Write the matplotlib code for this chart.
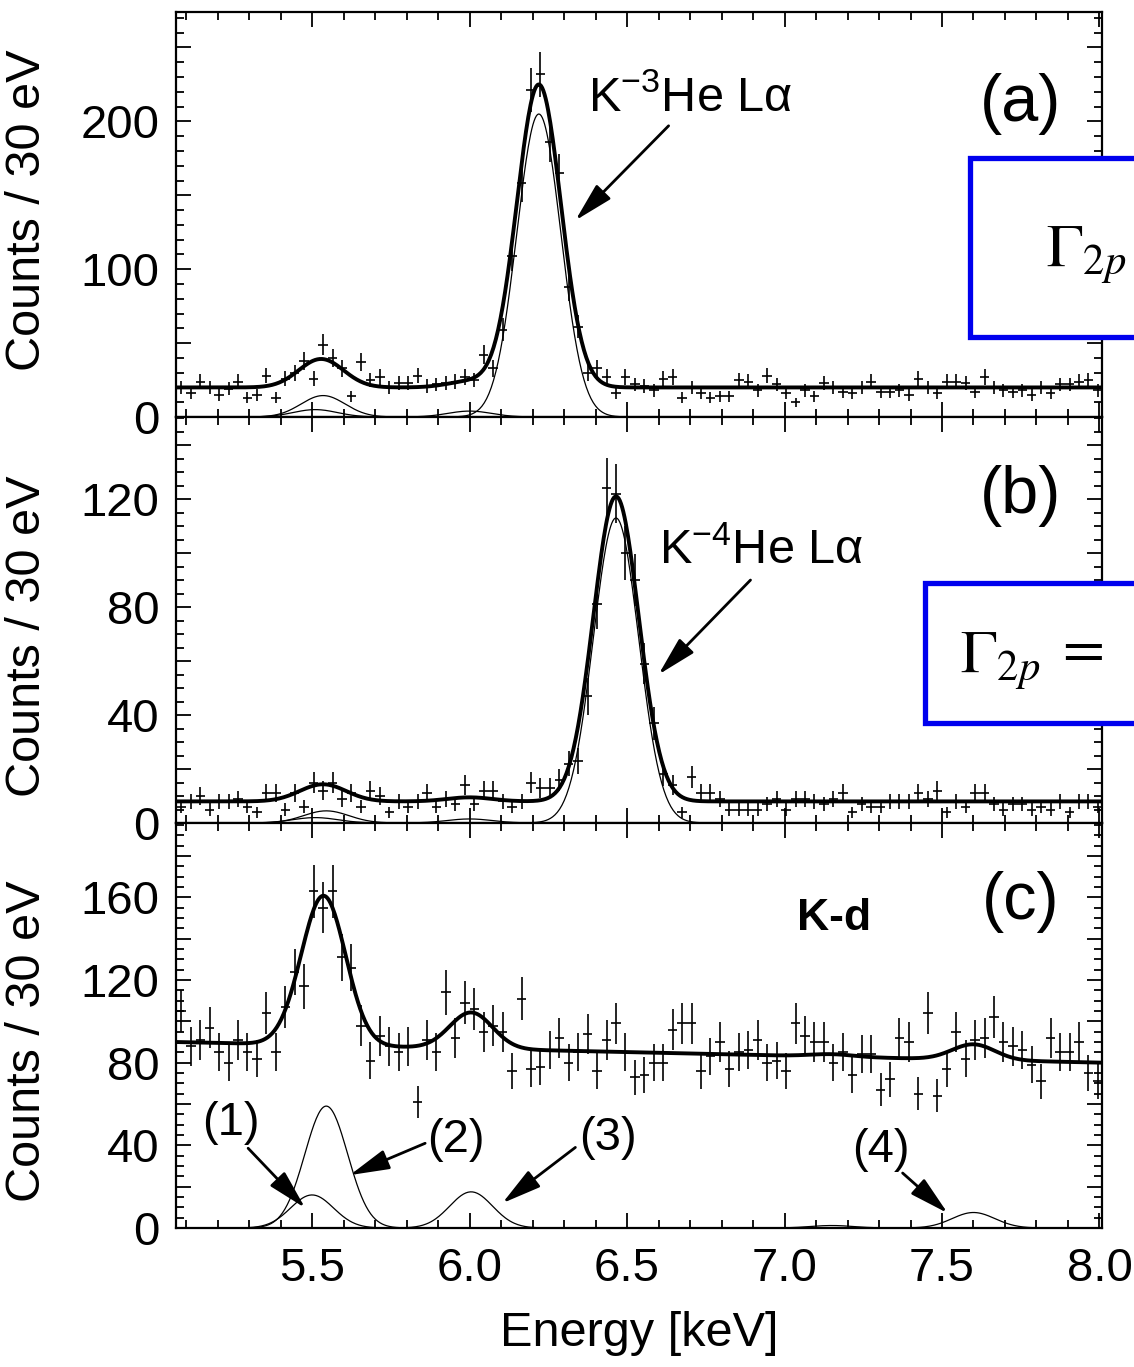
import numpy as np
import matplotlib
matplotlib.use("Agg")
import matplotlib.pyplot as plt
from matplotlib.patches import Rectangle
from matplotlib.ticker import MultipleLocator, FuncFormatter

plt.rcParams["font.family"] = ["Liberation Sans", "DejaVu Sans"]
plt.rcParams["mathtext.fontset"] = "custom"
plt.rcParams["mathtext.rm"] = "Liberation Sans"
plt.rcParams["mathtext.it"] = "Liberation Sans:italic"
plt.rcParams["mathtext.bf"] = "Liberation Sans:bold"

W, H = 1134, 1367

# 30 eV bins, centres in keV
energy = np.round(5.085 + 0.03 * np.arange(98), 3)

# ── (a) K-3He ────────────────────────────────────────────────────────────
counts_a = [20, 16, 24, 20, 15, 19, 24, 13, 15, 28,
            13, 26, 30, 38, 26, 49, 40, 33, 14, 37,
            25, 27, 20, 23, 23, 28, 21, 22, 23, 24,
            27, 25, 42, 33, 59, 109, 158, 221, 232, 186,
            165, 88, 61, 30, 33, 27, 16, 27, 22, 21,
            18, 26, 27, 13, 20, 16, 13, 14, 14, 25,
            24, 18, 28, 22, 16, 10, 18, 14, 23, 20,
            17, 16, 20, 24, 17, 17, 18, 15, 26, 20,
            16, 24, 24, 23, 17, 27, 20, 18, 17, 18,
            15, 20, 16, 22, 22, 24, 25, 18]
a_bg = [20.0, 0.0]                      # offset, slope per keV
a_centres = [5.51, 5.535, 6.00, 6.22]
a_amps = [5.0, 14.5, 4.0, 205.0]
a_sigma = 0.07

# ── (b) K-4He ────────────────────────────────────────────────────────────
counts_b = [6, 8, 10, 5, 8, 8, 9, 6, 4, 11,
            11, 5, 11, 6, 15, 12, 15, 9, 11, 6,
            12, 10, 4, 8, 6, 8, 11, 6, 9, 7,
            14, 7, 12, 12, 8, 6, 8, 15, 13, 13,
            16, 22, 23, 47, 81, 124, 122, 100, 90, 59,
            37, 18, 14, 4, 17, 11, 11, 9, 5, 5,
            5, 5, 7, 9, 5, 9, 9, 8, 7, 9,
            11, 4, 7, 6, 6, 8, 8, 8, 11, 9,
            12, 4, 8, 6, 11, 11, 7, 5, 7, 7,
            5, 6, 5, 8, 4, 8, 8, 6]
b_bg = [8.0, 0.0]
b_centres = [5.51, 5.545, 6.00, 6.465]
b_amps = [2.0, 4.5, 1.5, 113.0]
b_sigma = 0.072

# ── (c) K-d ──────────────────────────────────────────────────────────────
counts_c = [105, 88, 91, 97, 85, 80, 91, 85, 82, 104,
            85, 107, 124, 117, 163, 155, 163, 131, 126, 98,
            81, 93, 88, 85, 88, 61, 91, 85, 114, 92,
            109, 106, 95, 98, 95, 76, 111, 77, 78, 86,
            92, 80, 85, 94, 76, 91, 99, 85, 73, 74,
            80, 80, 96, 99, 99, 76, 83, 90, 77, 85,
            86, 91, 80, 81, 76, 99, 93, 90, 90, 80,
            85, 74, 84, 84, 67, 72, 92, 90, 65, 104,
            64, 77, 95, 82, 91, 92, 102, 90, 88, 86,
            79, 71, 92, 85, 85, 90, 75, 71]
c_bg = [90.0, -3.4]
c_centres = [5.50, 5.545, 6.005, 7.15, 7.60]
c_amps = [16.0, 59.0, 17.5, 1.2, 7.5]
c_sigma = 0.068

XMIN, XMAX = 5.068, 8.008


def gauss(e, c, a, s):
    return a * np.exp(-0.5 * ((e - c) / s) ** 2)


def draw_panel(ax, counts, bg, centres, amps, sigma, ytop, major, label_step, minor, label_y):
    counts = np.asarray(counts, dtype=float)
    ax.errorbar(energy, counts, xerr=0.015, yerr=np.sqrt(counts), fmt="none",
                ecolor="k", elinewidth=1.2, capsize=0, zorder=2)
    grid = np.linspace(XMIN, XMAX, 800)
    comps = [gauss(grid, c, a, sigma) for c, a in zip(centres, amps)]
    total = bg[0] + bg[1] * (grid - 5.07) + np.sum(comps, axis=0)
    for comp in comps:
        ax.plot(grid, comp, color="k", lw=0.9, zorder=3)
    ax.plot(grid, total, color="k", lw=2.8, zorder=4)

    ax.set_xlim(XMIN, XMAX)
    ax.set_ylim(0, ytop)
    ax.xaxis.set_major_locator(MultipleLocator(0.5))
    ax.xaxis.set_minor_locator(MultipleLocator(0.1))
    ax.yaxis.set_major_locator(MultipleLocator(major))
    ax.yaxis.set_minor_locator(MultipleLocator(minor))
    ax.yaxis.set_major_formatter(FuncFormatter(
        lambda v, p: f"{v:.0f}" if abs(v / label_step - round(v / label_step)) < 1e-6 else ""))
    ax.tick_params(which="both", direction="in", top=True, right=True,
                   labelsize=34, pad=12, width=1.3)
    ax.tick_params(which="major", length=11)
    ax.tick_params(which="minor", length=5.5)
    for sp in ax.spines.values():
        sp.set_linewidth(1.6)
    ax.set_ylabel("Counts / 30 eV", fontsize=35, va="center")
    ax.yaxis.set_label_coords(-0.160, label_y)


fig = plt.figure(figsize=(W / 100, H / 100), dpi=100)
left, width = 176 / W, (1102 - 176) / W
ax_a = fig.add_axes([left, 1 - 417 / H, width, 405 / H])
ax_b = fig.add_axes([left, 1 - 823 / H, width, 406 / H])
ax_c = fig.add_axes([left, 1 - 1228 / H, width, 405 / H])

draw_panel(ax_a, counts_a, a_bg, a_centres, a_amps, a_sigma, 274, 50, 100, 10, 0.51)
draw_panel(ax_b, counts_b, b_bg, b_centres, b_amps, b_sigma, 150.4, 20, 40, 5, 0.46)
draw_panel(ax_c, counts_c, c_bg, c_centres, c_amps, c_sigma, 196, 20, 40, 5, 0.46)

ax_a.tick_params(labelbottom=False)
ax_b.tick_params(labelbottom=False)
ax_c.xaxis.set_major_formatter(FuncFormatter(lambda v, p: f"{v:.1f}"))
ax_c.tick_params(axis="x", pad=14)
ax_c.set_xlabel("Energy [keV]", fontsize=35, labelpad=14)

arrow = dict(arrowstyle="-|>,head_length=1.1,head_width=0.28", color="k",
             lw=2.0, mutation_scale=22, shrinkA=0, shrinkB=0)

# panel labels
ax_a.text(7.75, 212, "(a)", fontsize=48, ha="center", va="center")
ax_b.text(7.75, 121, "(b)", fontsize=48, ha="center", va="center")
ax_c.text(7.75, 158, "(c)", fontsize=48, ha="center", va="center")
ax_c.text(7.156, 150, "K-d", fontsize=32, fontweight="bold", ha="center", va="center")

ax_a.text(6.375, 207, r"K$^{-3}$He L" + "\u03b1", fontsize=35, ha="left", va="baseline")
ax_a.annotate("", xy=(6.336, 133), xytext=(6.632, 197), arrowprops=arrow)
ax_b.text(6.60, 96, r"K$^{-4}$He L" + "\u03b1", fontsize=35, ha="left", va="baseline")
ax_b.annotate("", xy=(6.60, 55), xytext=(6.892, 90), arrowprops=arrow)

# component labels in (c)
for lab, tx, ty, hx, hy, sx, sy in [
        ("(1)", 5.243, 51, 5.478, 9.7, 5.297, 38.6),
        ("(2)", 5.958, 42.5, 5.62, 25.6, 5.859, 41),
        ("(3)", 6.438, 43.5, 6.104, 12, 6.336, 39),
        ("(4)", 7.305, 37.7, 7.518, 7.2, 7.375, 26.6)]:
    ax_c.text(tx, ty, lab, fontsize=34, ha="center", va="center")
    ax_c.annotate("", xy=(hx, hy), xytext=(sx, sy), arrowprops=arrow)

# overlaid blue boxes, cut by the right edge of the figure
for x0, y0, y1, tx in [(970, 158, 337, 1046), (925, 583, 723, 960)]:
    fig.add_artist(Rectangle((x0 / W, 1 - y1 / H), 300 / W, (y1 - y0) / H,
                             transform=fig.transFigure, facecolor="white",
                             edgecolor="#0000ee", lw=3.8, zorder=10))
    fig.text(tx / W, 1 - (y0 + y1 + 16) / 2 / H, r"$\Gamma_{2p}$", fontsize=44,
             math_fontfamily="stix", ha="left", va="center", zorder=11)
fig.text(1054 / W, 1 - 650 / H, r"$=$", fontsize=44, math_fontfamily="stix",
         ha="left", va="center", zorder=11)

fig.savefig("out.png", dpi=100)
